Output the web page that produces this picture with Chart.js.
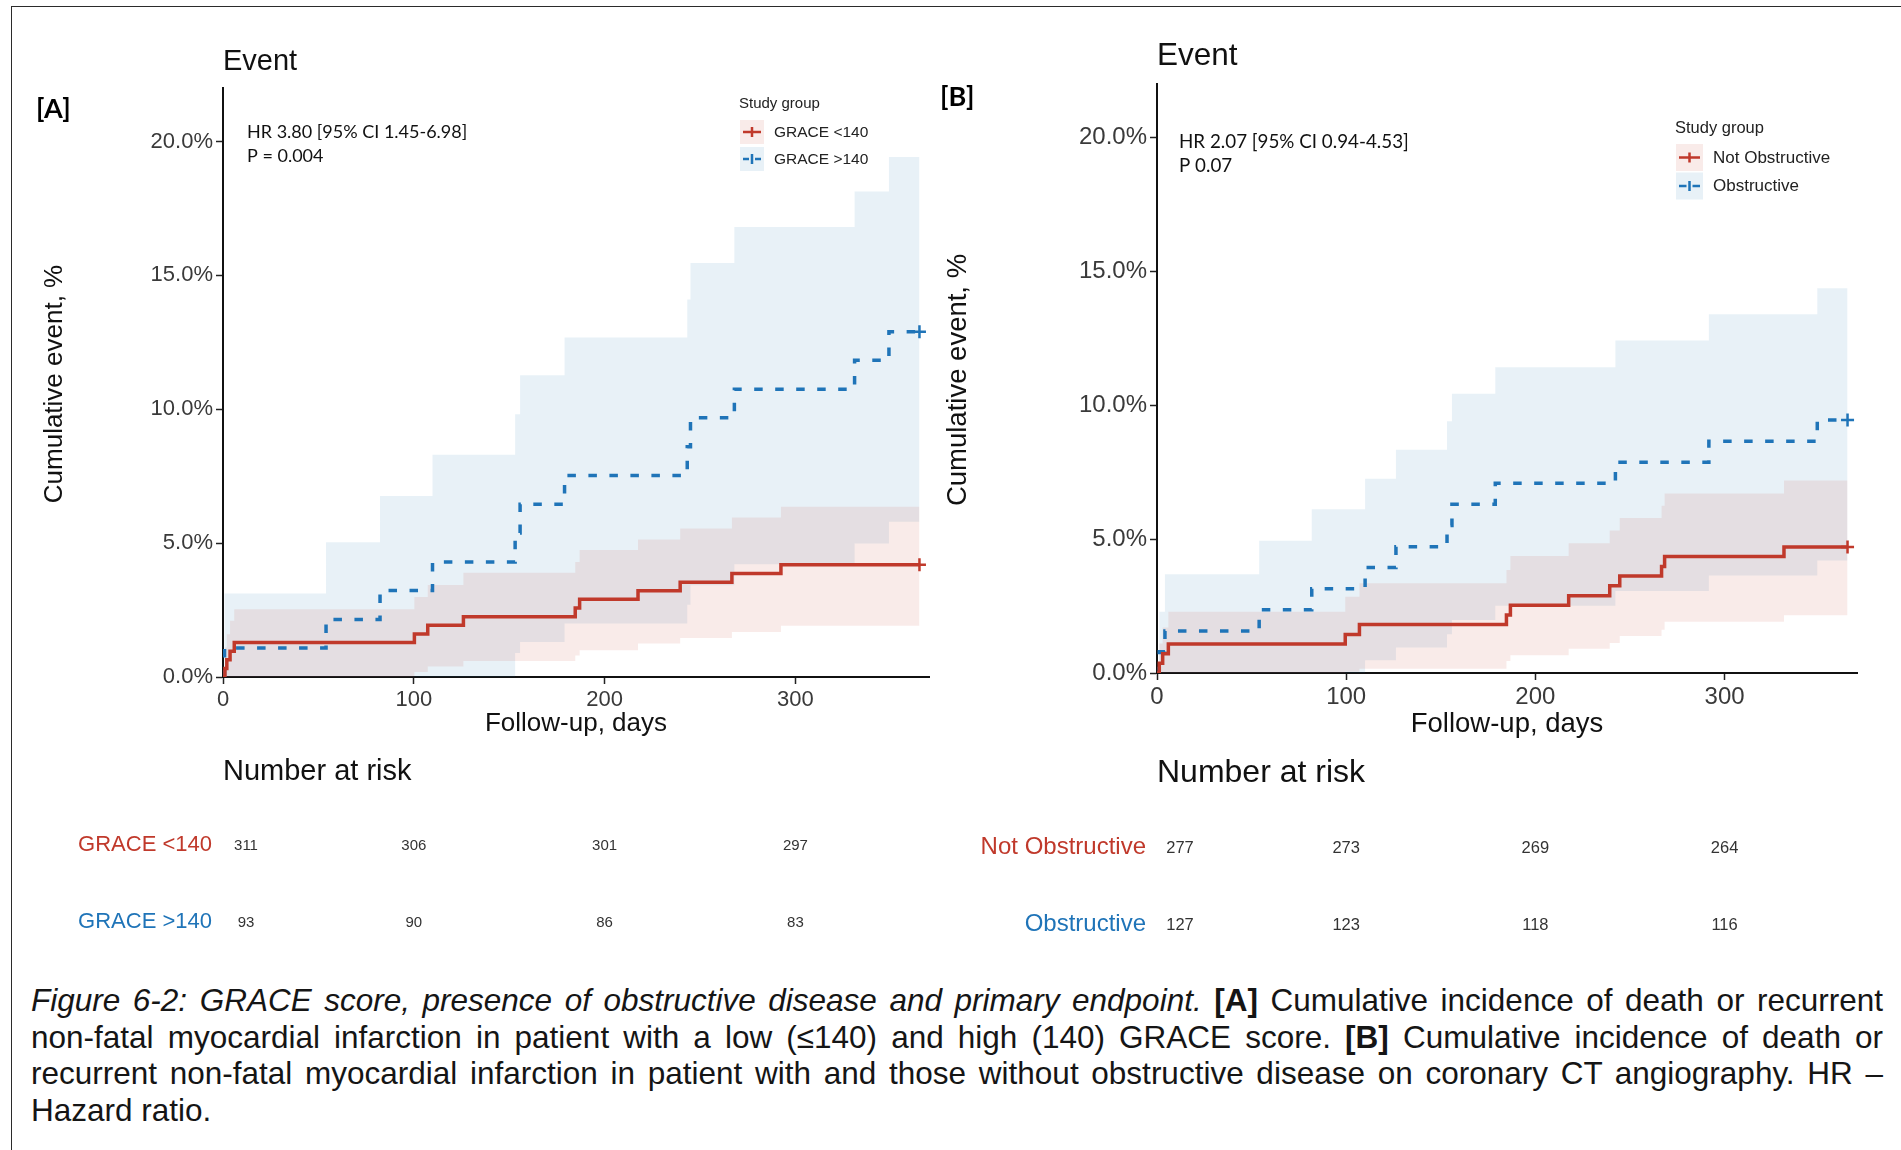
<!DOCTYPE html>
<html>
<head>
<meta charset="utf-8">
<title>Cumulative event curves</title>
<script src="https://cdn.jsdelivr.net/npm/chart.js@4.4.1/dist/chart.umd.min.js"></script>
<style>
  html, body { margin: 0; padding: 0; background: #fff; }
  body { width: 1901px; height: 1150px; position: relative; overflow: hidden; font-family: "Liberation Sans", Arial, sans-serif; }
  .frame { position: absolute; left: 11px; top: 6px; width: 1900px; height: 1150px; border-top: 1.5px solid #2b2b2b; border-left: 1.5px solid #2b2b2b; }
  canvas { position: absolute; top: 0; }
  #chartA { left: 0; }
  #chartB { left: 930px; }
  .caption { position: absolute; left: 31px; top: 982px; width: 1852px; font-size: 31.5px; line-height: 36.5px; color: #151515; }
  .caption div { text-align: justify; text-align-last: justify; }
  .caption div.last { text-align-last: left; }
</style>
</head>
<body>
<div class="frame"></div>
<canvas id="chartA" width="960" height="960"></canvas>
<canvas id="chartB" width="971" height="960"></canvas>
<div class="caption">
  <div><i>Figure 6-2: GRACE score, presence of obstructive disease and primary endpoint.</i> <b>[A]</b> Cumulative incidence of death or recurrent</div>
  <div>non-fatal myocardial infarction in patient with a low (≤140) and high (140) GRACE score. <b>[B]</b> Cumulative incidence of death or</div>
  <div>recurrent non-fatal myocardial infarction in patient with and those without obstructive disease on coronary CT angiography. HR –</div>
  <div class="last">Hazard ratio.</div>
</div>
<script>
// axes
const xTicks = [0, 100, 200, 300];
const yTicks = [0, 5, 10, 15, 20];
const yTickLabels = ['0.0%', '5.0%', '10.0%', '15.0%', '20.0%'];

// [A] GRACE score - cumulative event (%) with 95% CI
const aLowTime  = [0, 1, 2, 3.7, 5.9, 100.3, 107.3, 126, 184.6, 186.9, 217.5, 239.6, 266.7, 292.4, 365];
const aLowEvent = [0, 0.32, 0.64, 0.96, 1.29, 1.61, 1.93, 2.25, 2.58, 2.9, 3.22, 3.54, 3.87, 4.19, 4.19];
const aLowUpper = [0, 1.1, 1.6, 2.1, 2.53, 2.99, 3.44, 3.89, 4.3, 4.74, 5.14, 5.55, 5.96, 6.36, 6.36];
const aLowLower = [0, 0, 0, 0, 0, 0.19, 0.39, 0.6, 0.8, 1.0, 1.25, 1.46, 1.68, 1.91, 1.91];

const aHighTime  = [0, 0.8, 54, 82.3, 109.8, 153.1, 155.7, 179, 243.3, 245, 268, 331, 349, 365];
const aHighEvent = [0, 1.08, 2.15, 3.23, 4.3, 5.38, 6.45, 7.53, 8.6, 9.68, 10.75, 11.83, 12.9, 12.9];
const aHighUpper = [0, 3.12, 5.03, 6.76, 8.3, 9.81, 11.27, 12.68, 14.1, 15.46, 16.81, 18.13, 19.42, 19.42];
const aHighLower = [0, 0, 0, 0, 0, 0.9, 1.31, 2.0, 2.7, 3.43, 4.21, 4.99, 5.8, 5.8];

// [B] obstructive disease
const bNotTime  = [0, 1.2, 3, 6, 99.5, 107, 184.7, 186.8, 217.6, 239.3, 244.6, 266.7, 268.3, 331.4, 365];
const bNotEvent = [0, 0.36, 0.72, 1.08, 1.44, 1.81, 2.17, 2.53, 2.89, 3.26, 3.62, 3.98, 4.35, 4.71, 4.71];
const bNotUpper = [0, 1.1, 1.7, 2.29, 2.85, 3.35, 3.85, 4.37, 4.85, 5.32, 5.79, 6.25, 6.7, 7.19, 7.19];
const bNotLower = [0, 0, 0, 0, 0.05, 0.16, 0.45, 0.66, 0.91, 1.12, 1.38, 1.62, 1.91, 2.16, 2.16];

const bObsTime  = [0, 1.2, 4.2, 54, 81.8, 110, 126.3, 153.3, 155.9, 178.8, 242.3, 291.7, 349, 365];
const bObsEvent = [0, 0.79, 1.57, 2.36, 3.15, 3.94, 4.72, 5.51, 6.3, 7.09, 7.87, 8.66, 9.45, 9.45];
const bObsUpper = [0, 2.29, 3.69, 4.94, 6.12, 7.26, 8.34, 9.4, 10.43, 11.42, 12.42, 13.4, 14.37, 14.37];
const bObsLower = [0, 0, 0, 0, 0, 0.48, 0.95, 1.45, 1.98, 2.51, 3.06, 3.64, 4.2, 4.2];

// number at risk
const riskTimes = [0, 100, 200, 300];
const aRiskLow  = [311, 306, 301, 297];
const aRiskHigh = [93, 90, 86, 83];
const bRiskNot  = [277, 273, 269, 264];
const bRiskObs  = [127, 123, 118, 116];

const RED = '#c0392b';
const BLUE = '#1f74b8';
const RED_BAND = 'rgba(192, 57, 43, 0.1)';
const BLUE_BAND = 'rgba(34, 113, 181, 0.1)';
const ARIAL = '"Liberation Sans", Arial, sans-serif';

function pts(times, vals) {
    return times.map((t, i) => ({ x: t, y: vals[i] }));
}

// lower/upper pair, upper fills down to lower (absolute index)
function band(times, lower, upper, color, lowerIndex) {
    const base = { stepped: 'before', borderWidth: 0, pointRadius: 0, order: 2 };
    return [
        { ...base, data: pts(times, lower), fill: false },
        { ...base, data: pts(times, upper), fill: lowerIndex, backgroundColor: color }
    ];
}

function curve(times, vals, color, dashed) {
    const last = times.length - 1;
    return {
        data: pts(times, vals),
        stepped: 'before',
        borderColor: color,
        borderWidth: 3.5,
        borderDash: dashed ? [8.5, 12.5] : [],
        fill: false,
        order: 1,
        pointStyle: 'cross',
        pointRadius: ctx => ctx.dataIndex === last ? 6.5 : 0,
        pointBorderColor: color,
        pointBorderWidth: 2.5,
        pointHitRadius: 0
    };
}

const kmDecor = {
    id: 'kmDecor',
    afterDraw(chart, args, o) {
        const { ctx, chartArea: ca, scales: { x } } = chart;
        const text = (s, px, py, font, color, align = 'left', rot = 0) => {
            ctx.save();
            ctx.translate(px, py);
            ctx.rotate(rot);
            ctx.font = font;
            ctx.fillStyle = color;
            ctx.textAlign = align;
            ctx.textBaseline = 'middle';
            ctx.fillText(s, 0, 0);
            ctx.restore();
        };
        const f = o.fonts;

        text(o.letter, o.letterX, o.letterY, `bold ${f.letter}px Lato`, '#000');
        text('Event', ca.left, o.titleY, `${f.title}px ${ARIAL}`, '#111');
        o.stats.forEach((s, i) => text(s, ca.left + o.statsDX, o.statsY + i * o.statsGap, `${f.stats}px Lato`, '#111'));

        text('Cumulative event, %', o.yTitleX, o.yTitleY, `${f.axis}px ${ARIAL}`, '#111', 'center', -Math.PI / 2);
        text('Follow-up, days', (ca.left + ca.right) / 2, o.xTitleY, `${f.axis}px ${ARIAL}`, '#111', 'center');

        // legend
        const lg = o.legend;
        text('Study group', lg.x - 1, lg.titleY, `${f.legendTitle}px ${ARIAL}`, '#222');
        lg.items.forEach((it, i) => {
            const top = lg.top + i * lg.gap;
            const cy = top + lg.box / 2;
            ctx.save();
            ctx.fillStyle = it.band;
            ctx.fillRect(lg.x, top, lg.box, lg.box);
            ctx.strokeStyle = it.color;
            ctx.lineWidth = 2.5;
            ctx.beginPath();
            const l = lg.x + 3, r = lg.x + lg.box - 3, m = lg.x + lg.box / 2;
            if (it.dashed) {
                ctx.moveTo(l, cy); ctx.lineTo(m - 3, cy);
                ctx.moveTo(m + 3, cy); ctx.lineTo(r, cy);
            } else {
                ctx.moveTo(l, cy); ctx.lineTo(r, cy);
            }
            ctx.moveTo(m, cy - 5); ctx.lineTo(m, cy + 5);
            ctx.stroke();
            ctx.restore();
            text(it.label, lg.x + lg.box + 10, cy + 0.5, `${f.legend}px ${ARIAL}`, '#222');
        });

        // risk table
        text('Number at risk', ca.left, o.riskTitleY, `${f.riskTitle}px ${ARIAL}`, '#111');
        o.rows.forEach(row => {
            text(row.label, o.riskLabelRight, row.y, `${f.riskLabel}px ${ARIAL}`, row.color, 'right');
            row.values.forEach((v, i) => {
                const px = x.getPixelForValue(riskTimes[i]) + (i === 0 ? o.firstOffset : 0);
                text(String(v), px, row.y + 1, `${f.riskNum}px ${ARIAL}`, '#333', 'center');
            });
        });
    }
};

function makeChart(id, cfg) {
    const axisFont = { family: ARIAL, size: cfg.tickSize };
    return new Chart(document.getElementById(id), {
        type: 'line',
        data: { datasets: cfg.datasets },
        options: {
            responsive: false,
            animation: false,
            events: [],
            layout: { padding: cfg.padding },
            scales: {
                x: {
                    type: 'linear', min: 0, max: 370,
                    afterBuildTicks: s => { s.ticks = xTicks.map(v => ({ value: v })); },
                    afterFit: s => { s.height = 60; },
                    grid: { drawOnChartArea: false, tickLength: 7, tickColor: '#222', tickWidth: 1.5 },
                    border: { color: '#111', width: 2 },
                    ticks: { font: axisFont, color: '#3a3a3a', padding: 3, maxRotation: 0, autoSkip: false }
                },
                y: {
                    type: 'linear', min: 0, max: 22,
                    afterBuildTicks: s => { s.ticks = yTicks.map(v => ({ value: v })); },
                    afterFit: s => { s.width = cfg.yWidth; },
                    grid: { drawOnChartArea: false, tickLength: 7, tickColor: '#222', tickWidth: 1.5 },
                    border: { color: '#111', width: 2 },
                    ticks: { font: axisFont, color: '#3a3a3a', padding: 3, callback: v => yTickLabels[yTicks.indexOf(v)] }
                }
            },
            plugins: {
                legend: { display: false },
                tooltip: { enabled: false },
                filler: { propagate: false },
                kmDecor: cfg.decor
            }
        },
        plugins: [kmDecor]
    });
}

makeChart('chartA', {
    tickSize: 22,
    yWidth: 223,
    padding: { left: 0, top: 88, right: 31, bottom: 223 },
    datasets: [
        ...band(aLowTime, aLowLower, aLowUpper, RED_BAND, 0),
        ...band(aHighTime, aHighLower, aHighUpper, BLUE_BAND, 2),
        curve(aLowTime, aLowEvent, RED, false),
        curve(aHighTime, aHighEvent, BLUE, true)
    ],
    decor: {
        fonts: { letter: 27, title: 29, stats: 18, axis: 26, legendTitle: 15, legend: 15.5, riskTitle: 29, riskLabel: 22, riskNum: 15 },
        letter: '[A]', letterX: 36, letterY: 109,
        titleY: 62,
        stats: ['HR 3.80 [95% CI 1.45-6.98]', 'P = 0.004'], statsDX: 24, statsY: 132, statsGap: 24,
        yTitleX: 55, yTitleY: 384, xTitleY: 724,
        legend: {
            x: 740, titleY: 104, top: 120, box: 24, gap: 27,
            items: [
                { label: 'GRACE <140', color: RED, band: RED_BAND, dashed: false },
                { label: 'GRACE >140', color: BLUE, band: BLUE_BAND, dashed: true }
            ]
        },
        riskTitleY: 772, riskLabelRight: 212, firstOffset: 23,
        rows: [
            { label: 'GRACE <140', color: RED, values: aRiskLow, y: 845 },
            { label: 'GRACE >140', color: BLUE, values: aRiskHigh, y: 921.5 }
        ]
    }
});

makeChart('chartB', {
    tickSize: 24,
    yWidth: 227,
    padding: { left: 0, top: 84, right: 44, bottom: 227 },
    datasets: [
        ...band(bNotTime, bNotLower, bNotUpper, RED_BAND, 0),
        ...band(bObsTime, bObsLower, bObsUpper, BLUE_BAND, 2),
        curve(bNotTime, bNotEvent, RED, false),
        curve(bObsTime, bObsEvent, BLUE, true)
    ],
    decor: {
        fonts: { letter: 27, title: 31.5, stats: 18.8, axis: 27.5, legendTitle: 16.5, legend: 17, riskTitle: 32, riskLabel: 24, riskNum: 16.5 },
        letter: '[B]', letterX: 10, letterY: 97,
        titleY: 56,
        stats: ['HR 2.07 [95% CI 0.94-4.53]', 'P 0.07'], statsDX: 22, statsY: 141.5, statsGap: 24,
        yTitleX: 28, yTitleY: 380, xTitleY: 724,
        legend: {
            x: 746, titleY: 128, top: 144, box: 27, gap: 28.5,
            items: [
                { label: 'Not Obstructive', color: RED, band: RED_BAND, dashed: false },
                { label: 'Obstructive', color: BLUE, band: BLUE_BAND, dashed: true }
            ]
        },
        riskTitleY: 773.5, riskLabelRight: 216, firstOffset: 23,
        rows: [
            { label: 'Not Obstructive', color: RED, values: bRiskNot, y: 847.5 },
            { label: 'Obstructive', color: BLUE, values: bRiskObs, y: 924 }
        ]
    }
});
</script>
</body>
</html>
